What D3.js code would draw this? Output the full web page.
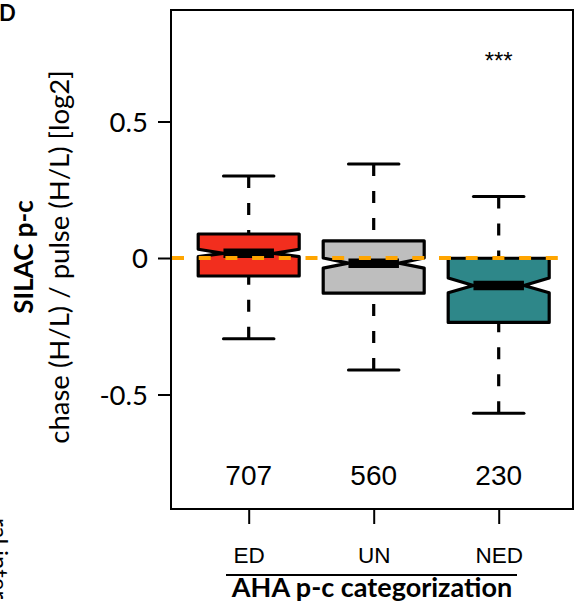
<!DOCTYPE html>
<html>
<head>
<meta charset="utf-8">
<script src="https://cdn.jsdelivr.net/npm/d3@7"></script>
<style>
  body { margin: 0; background: #fff; }
  svg { display: block; }
</style>
</head>
<body>
<div id="chart"></div>
<script>
// categories and box statistics (log2 ratios)
var cats = ["ED", "UN", "NED"];
var counts = [707, 560, 230];
var whiskLo = [-0.296, -0.410, -0.569];
var q1 = [-0.066, -0.129, -0.236];
var med = [0.017, -0.019, -0.101];
var q3 = [0.088, 0.063, -0.001];
var whiskHi = [0.300, 0.344, 0.225];
var notchLo = [0.005, -0.037, -0.127];
var notchHi = [0.032, 0.000, -0.073];
var yTicks = [-0.5, 0, 0.5];
var yTickLabels = ["-0.5", "0", "0.5"];
var boxColors = ["#F22E1E", "#BEBEBE", "#2E8789"];

var W = 584, H = 605;
var frame = { left: 171, top: 10, right: 573, bottom: 509 };
var humanist = "Lato, 'Open Sans', sans-serif";
var arial = "'Liberation Sans', Arial, sans-serif";

var svg = d3.select("#chart").append("svg")
    .attr("width", W)
    .attr("height", H);

var x = d3.scalePoint()
    .domain(cats)
    .range([248.7, 498.7]);

var y = d3.scaleLinear()
    .domain([-0.5, 0.5])
    .range([394.5, 121.5]);

var color = d3.scaleOrdinal(cats, boxColors);

var data = cats.map(function(c, i) {
    return { cat: c, n: counts[i], lo: whiskLo[i], q1: q1[i], med: med[i],
             q3: q3[i], hi: whiskHi[i], nlo: notchLo[i], nhi: notchHi[i] };
});

var halfW = x.step() * 0.404;

svg.append("clipPath").attr("id", "plotclip")
  .append("rect")
    .attr("x", frame.left).attr("y", frame.top)
    .attr("width", frame.right - frame.left)
    .attr("height", frame.bottom - frame.top);

var plot = svg.append("g").attr("clip-path", "url(#plotclip)");

var g = plot.selectAll("g.box")
    .data(data)
    .enter()
    .append("g")
    .attr("class", "box");

// whiskers, dashed, drawn from the whisker end toward the box
g.append("line")
    .attr("x1", function(d) { return x(d.cat); })
    .attr("x2", function(d) { return x(d.cat); })
    .attr("y1", function(d) { return y(d.hi); })
    .attr("y2", function(d) { return y(d.q3); })
    .attr("stroke", "#000").attr("stroke-width", 3.2)
    .attr("stroke-dasharray", "12,15");

g.append("line")
    .attr("x1", function(d) { return x(d.cat); })
    .attr("x2", function(d) { return x(d.cat); })
    .attr("y1", function(d) { return y(d.lo); })
    .attr("y2", function(d) { return y(d.q1); })
    .attr("stroke", "#000").attr("stroke-width", 3.2)
    .attr("stroke-dasharray", "12,15");

// staples
[ "hi", "lo" ].forEach(function(k) {
    g.append("line")
        .attr("x1", function(d) { return x(d.cat) - halfW / 2; })
        .attr("x2", function(d) { return x(d.cat) + halfW / 2; })
        .attr("y1", function(d) { return y(d[k]); })
        .attr("y2", function(d) { return y(d[k]); })
        .attr("stroke", "#000").attr("stroke-width", 3)
        .attr("stroke-linecap", "round");
});

// notched box
g.append("path")
    .attr("d", function(d) {
        var cx = x(d.cat), w = halfW;
        var pts = [
            [cx - w, y(d.q1)], [cx - w, y(d.nlo)], [cx - w / 2, y(d.med)],
            [cx - w, y(d.nhi)], [cx - w, y(d.q3)], [cx + w, y(d.q3)],
            [cx + w, y(d.nhi)], [cx + w / 2, y(d.med)], [cx + w, y(d.nlo)],
            [cx + w, y(d.q1)]
        ];
        return d3.line()(pts) + "Z";
    })
    .attr("fill", function(d) { return color(d.cat); })
    .attr("stroke", "#000")
    .attr("stroke-width", 3.2)
    .attr("stroke-linejoin", "round");

// median bar
g.append("line")
    .attr("x1", function(d) { return x(d.cat) - halfW / 2; })
    .attr("x2", function(d) { return x(d.cat) + halfW / 2; })
    .attr("y1", function(d) { return y(d.med); })
    .attr("y2", function(d) { return y(d.med); })
    .attr("stroke", "#000").attr("stroke-width", 9.5);

// reference line at zero
plot.append("line")
    .attr("x1", frame.left).attr("x2", frame.right)
    .attr("y1", y(0)).attr("y2", y(0))
    .attr("stroke", "#FFA500").attr("stroke-width", 4)
    .attr("stroke-dasharray", "12,14.7")
    .attr("stroke-dashoffset", -1);

// counts
svg.selectAll("text.count")
    .data(data)
    .enter()
    .append("text")
    .attr("class", "count")
    .attr("x", function(d) { return x(d.cat); })
    .attr("y", 485)
    .attr("text-anchor", "middle")
    .attr("font-family", arial)
    .attr("font-size", 28)
    .text(function(d) { return d.n; });

svg.append("text")
    .attr("x", x("NED"))
    .attr("y", 69)
    .attr("text-anchor", "middle")
    .attr("font-family", arial)
    .attr("font-size", 24)
    .text("***");

// frame
svg.append("rect")
    .attr("x", frame.left).attr("y", frame.top)
    .attr("width", frame.right - frame.left)
    .attr("height", frame.bottom - frame.top)
    .attr("fill", "none")
    .attr("stroke", "#000")
    .attr("stroke-width", 2);

// y axis
var yAxis = svg.append("g")
    .attr("transform", "translate(" + frame.left + ",0)")
    .call(d3.axisLeft(y)
        .tickValues(yTicks)
        .tickFormat(function(d, i) { return yTickLabels[i]; })
        .tickSize(13)
        .tickPadding(10));
yAxis.select(".domain").remove();
yAxis.selectAll(".tick line").attr("stroke-width", 2);
yAxis.selectAll(".tick text")
    .attr("font-family", humanist)
    .attr("font-size", 27.5)
    .attr("dy", "0.36em")
    .attr("fill", "#000");

// x axis
var xAxis = svg.append("g")
    .attr("transform", "translate(0," + frame.bottom + ")")
    .call(d3.axisBottom(x).tickSize(15).tickPadding(23));
xAxis.select(".domain").remove();
xAxis.selectAll(".tick line").attr("stroke-width", 2);
xAxis.selectAll(".tick text")
    .attr("font-family", arial)
    .attr("font-size", 22.5)
    .attr("fill", "#000");

// axis titles
svg.append("text")
    .attr("transform", "translate(33,257) rotate(-90)")
    .attr("text-anchor", "middle")
    .attr("font-family", humanist)
    .attr("font-weight", "bold")
    .attr("font-size", 26)
    .text("SILAC p-c");

svg.append("text")
    .attr("transform", "translate(69,257) rotate(-90)")
    .attr("text-anchor", "middle")
    .attr("font-family", humanist)
    .attr("font-size", 27.5)
    .text("chase (H/L) / pulse (H/L) [log2]");

svg.append("line")
    .attr("x1", 226).attr("x2", 517)
    .attr("y1", 575).attr("y2", 575)
    .attr("stroke", "#000").attr("stroke-width", 2);

svg.append("text")
    .attr("x", 372)
    .attr("y", 597)
    .attr("text-anchor", "middle")
    .attr("font-family", humanist)
    .attr("font-weight", "bold")
    .attr("font-size", 27)
    .text("AHA p-c categorization");

// panel letter and a cut-off label from the neighbouring panel
svg.append("text")
    .attr("x", -1).attr("y", 21)
    .attr("font-family", humanist)
    .attr("font-weight", "bold")
    .attr("font-size", 22)
    .text("D");

svg.append("text")
    .attr("transform", "translate(-9,518) rotate(90)")
    .attr("font-family", humanist)
    .attr("font-size", 24)
    .text("ral inter");
</script>
</body>
</html>
